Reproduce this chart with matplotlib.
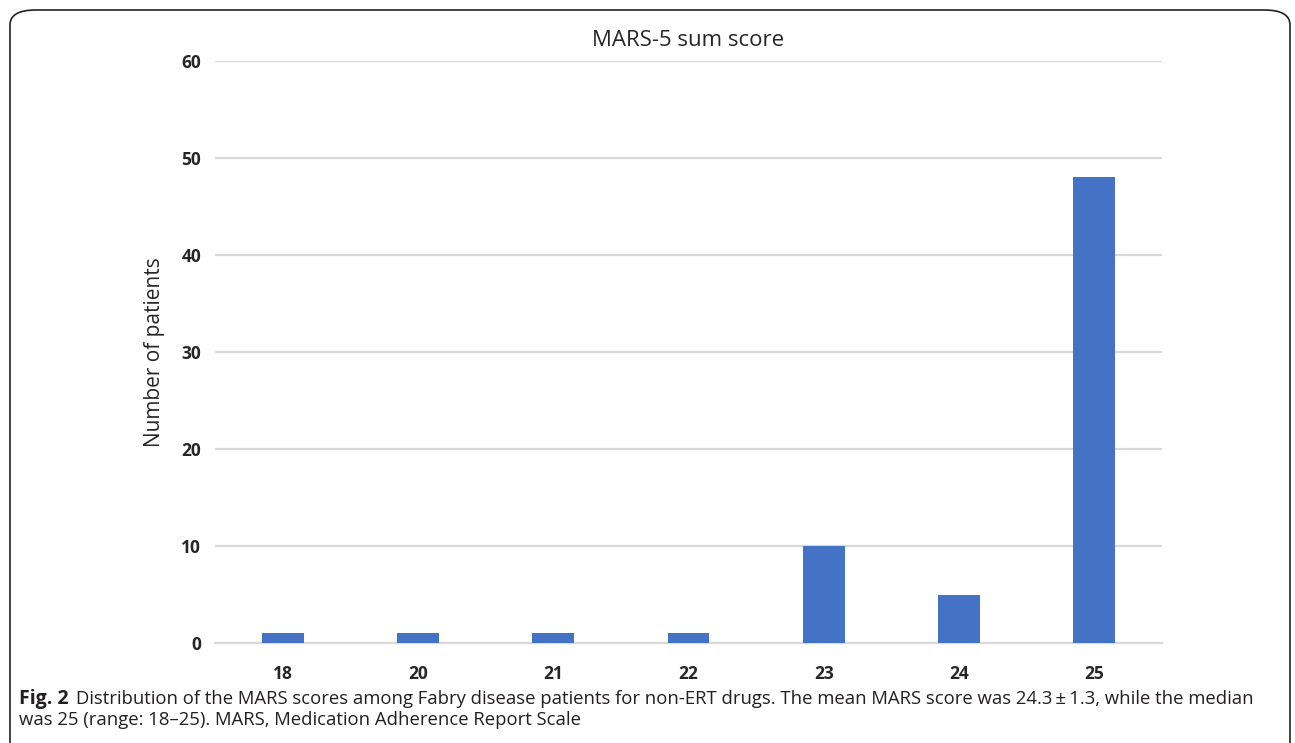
import matplotlib.pyplot as plt
from matplotlib.patches import FancyBboxPatch

plt.rcParams['font.family'] = ['Open Sans', 'DejaVu Sans']

# Data
scores = ['18', '20', '21', '22', '23', '24', '25']
patients = [1, 1, 1, 1, 10, 5, 48]
yticks = [0, 10, 20, 30, 40, 50, 60]

W, H = 1295, 743
fig = plt.figure(figsize=(W / 100, H / 100), dpi=100)
ax = fig.add_axes([215 / W, 1 - 643 / H, (1162 - 215) / W, (643 - 61) / H])

ax.bar(scores, patients, width=0.31, color='#4472C4', zorder=3)
ax.set_xlim(-0.5, len(scores) - 0.5)
ax.set_ylim(0, 60)
ax.set_yticks(yticks)
ax.yaxis.grid(True, color='#d9d9d9', linewidth=1.6, zorder=0)
for s in ['top', 'right', 'left']:
    ax.spines[s].set_visible(False)
ax.spines['bottom'].set_color('#d9d9d9')
ax.spines['bottom'].set_linewidth(1.6)
ax.tick_params(length=0, labelsize=12.5, colors='#262626')
ax.tick_params(axis='x', pad=16)
ax.tick_params(axis='y', pad=10)
for lbl in ax.get_xticklabels() + ax.get_yticklabels():
    lbl.set_fontweight('bold')

ax.set_ylabel('Number of patients', fontsize=15, color='#262626', labelpad=12)
ax.set_title('MARS-5 sum score', fontsize=16, color='#262626', pad=11)

# rounded frame around the figure panel
frame = FancyBboxPatch((10 / W, -0.2), 1280 / W, 1 - 10 / H + 0.2,
                       boxstyle='round,pad=0,rounding_size=0.02',
                       transform=fig.transFigure, fill=False,
                       edgecolor='#222222', linewidth=1.2)
fig.add_artist(frame)

# caption
fig.text(19 / W, 1 - 699 / H, 'Fig. 2', fontsize=14, fontweight='bold',
         va='center', ha='left', color='#231f20')
fig.text(76 / W, 1 - 699 / H,
         'Distribution of the MARS scores among Fabry disease patients for non-ERT drugs. '
         'The mean MARS score was 24.3\u2009\u00b1\u20091.3, while the median',
         fontsize=13.3, va='center', ha='left', color='#231f20')
fig.text(19 / W, 1 - 720 / H,
         'was 25 (range: 18\u201325). MARS, Medication Adherence Report Scale',
         fontsize=13.3, va='center', ha='left', color='#231f20')

fig.savefig('out.png', dpi=100)
